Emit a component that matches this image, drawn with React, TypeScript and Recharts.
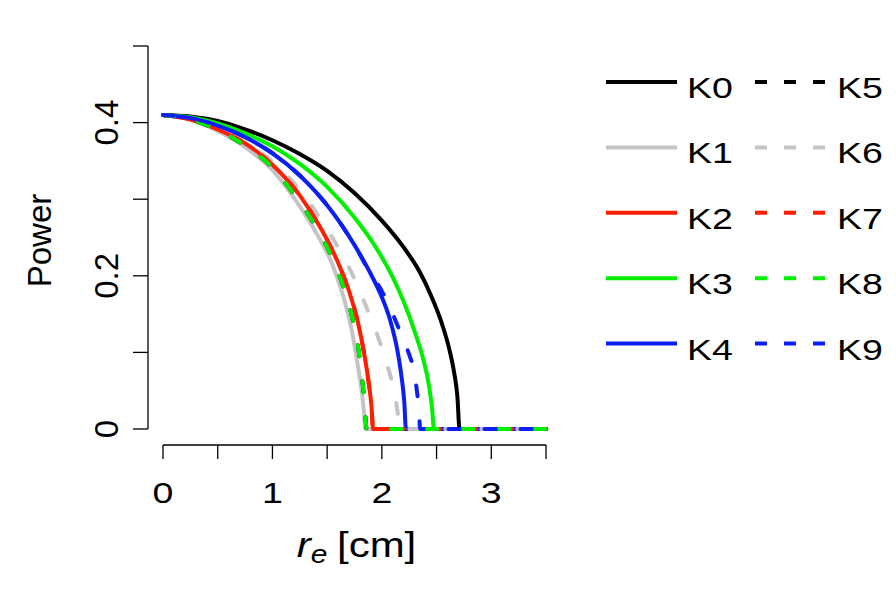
import React from 'react';
import { LineChart, Line, XAxis, YAxis, ReferenceLine, Legend, Label } from 'recharts';

type Pt = [number, number];

// power vs r_e [cm] for each kernel
const k0: Pt[] = [[0, 0.41], [0.25, 0.408], [0.5, 0.402], [0.75, 0.391], [1.0, 0.377], [1.25, 0.359], [1.5, 0.337], [1.75, 0.308], [2.0, 0.272], [2.2, 0.237], [2.35, 0.204], [2.45, 0.174], [2.55, 0.137], [2.62, 0.102], [2.66, 0.074], [2.69, 0.043], [2.71, 0], [3.5, 0]];
const k1: Pt[] = [[0, 0.41], [0.25, 0.404], [0.5, 0.389], [0.75, 0.368], [1.0, 0.338], [1.2, 0.301], [1.4, 0.256], [1.55, 0.214], [1.65, 0.172], [1.72, 0.132], [1.77, 0.092], [1.81, 0.055], [1.835, 0.025], [1.85, 0], [3.5, 0]];
const k2: Pt[] = [[0, 0.41], [0.25, 0.404], [0.5, 0.391], [0.75, 0.373], [1.0, 0.345], [1.25, 0.305], [1.45, 0.26], [1.6, 0.217], [1.7, 0.18], [1.78, 0.14], [1.84, 0.097], [1.88, 0.06], [1.905, 0.03], [1.92, 0], [3.5, 0]];
const k3: Pt[] = [[0, 0.41], [0.25, 0.407], [0.5, 0.399], [0.75, 0.386], [1.0, 0.369], [1.25, 0.346], [1.5, 0.316], [1.75, 0.276], [1.95, 0.236], [2.1, 0.198], [2.2, 0.166], [2.3, 0.127], [2.38, 0.09], [2.43, 0.057], [2.46, 0.025], [2.475, 0], [3.5, 0]];
const k4: Pt[] = [[0, 0.41], [0.25, 0.406], [0.5, 0.396], [0.75, 0.381], [1.0, 0.36], [1.25, 0.331], [1.5, 0.292], [1.75, 0.24], [1.9, 0.202], [2.0, 0.172], [2.08, 0.14], [2.14, 0.104], [2.18, 0.068], [2.205, 0.035], [2.22, 0], [3.5, 0]];
const k5: Pt[] = [[0, 0.41], [0.25, 0.404], [0.5, 0.39], [0.75, 0.37], [1.0, 0.341], [1.2, 0.306], [1.4, 0.263], [1.55, 0.222], [1.65, 0.185], [1.73, 0.145], [1.79, 0.1], [1.82, 0.065], [1.845, 0.03], [1.86, 0], [3.5, 0]];
const k6: Pt[] = [[0, 0.41], [0.25, 0.404], [0.5, 0.392], [0.75, 0.373], [1.0, 0.349], [1.25, 0.312], [1.45, 0.272], [1.6, 0.237], [1.75, 0.196], [1.87, 0.155], [1.97, 0.118], [2.05, 0.083], [2.1, 0.057], [2.13, 0.035], [2.15, 0.015], [2.16, 0], [3.5, 0]];
const k7: Pt[] = [[0, 0.41], [0.25, 0.404], [0.5, 0.391], [0.75, 0.373], [1.0, 0.345], [1.25, 0.305], [1.45, 0.26], [1.6, 0.217], [1.7, 0.18], [1.78, 0.14], [1.84, 0.097], [1.88, 0.06], [1.905, 0.03], [1.92, 0], [3.5, 0]];
const k8: Pt[] = [[0, 0.41], [0.25, 0.404], [0.5, 0.39], [0.75, 0.37], [1.0, 0.341], [1.2, 0.306], [1.4, 0.263], [1.55, 0.222], [1.65, 0.185], [1.73, 0.145], [1.79, 0.1], [1.82, 0.065], [1.845, 0.03], [1.86, 0], [3.5, 0]];
const k9: Pt[] = [[0, 0.41], [0.25, 0.406], [0.5, 0.396], [0.75, 0.381], [1.0, 0.36], [1.25, 0.331], [1.5, 0.292], [1.75, 0.24], [1.9, 0.202], [2.0, 0.18], [2.1, 0.15], [2.18, 0.122], [2.25, 0.097], [2.29, 0.078], [2.32, 0.05], [2.34, 0.022], [2.35, 0], [3.5, 0]];

const xTicks = [0, 0.5, 1, 1.5, 2, 2.5, 3, 3.5];
const yTicks = [0, 0.1, 0.2, 0.3, 0.4, 0.5];
const yLabels: Record<string, string> = { '0': '0', '0.2': '0.2', '0.4': '0.4' };

const BLACK = '#000000';
const GRAY = '#c4c4c4';
const RED = '#ff1e00';
const GREEN = '#00f000';
const BLUE = '#0a1ef5';

const series = [
  { name: 'K0', pts: k0, color: BLACK, dashed: false },
  { name: 'K1', pts: k1, color: GRAY, dashed: false },
  { name: 'K2', pts: k2, color: RED, dashed: false },
  { name: 'K3', pts: k3, color: GREEN, dashed: false },
  { name: 'K4', pts: k4, color: BLUE, dashed: false },
  { name: 'K5', pts: k5, color: BLACK, dashed: true },
  { name: 'K6', pts: k6, color: GRAY, dashed: true },
  { name: 'K7', pts: k7, color: RED, dashed: true },
  { name: 'K8', pts: k8, color: GREEN, dashed: true },
  { name: 'K9', pts: k9, color: BLUE, dashed: true },
];

const FONT = '"Liberation Sans", Arial, Helvetica, sans-serif';
const X_MAX = 3.5;
const Y_MIN = -0.0209; // leaves a gap between the curves and the x axis
const Y_AXIS_X = -0.137; // y axis line sits a bit left of x = 0

const toRows = (pts: Pt[]) => pts.map(([x, p]) => ({ x, p }));

const XTick = (props: any) => {
  const { x, y, payload } = props;
  if (!Number.isInteger(payload.value)) return null;
  return (
    <text
      transform={`translate(${x},${y + 44}) scale(1.25,1)`}
      textAnchor="middle"
      fontSize={30}
      fontFamily={FONT}
      fill="#000"
    >
      {payload.value}
    </text>
  );
};

const YTick = (props: any) => {
  const { x, y, payload } = props;
  const label = yLabels[String(payload.value)];
  return (
    <g>
      <line x1={x - 30} x2={x - 15} y1={y} y2={y} stroke="#000" strokeWidth={1.3} />
      {label && (
        <text
          transform={`translate(${x - 45},${y}) rotate(-90)`}
          textAnchor="middle"
          fontSize={33}
          fontFamily={FONT}
          fill="#000"
        >
          {label}
        </text>
      )}
    </g>
  );
};

const LegendBox = () => {
  const rowY = (i: number) => 34 + i * 65.4;
  const cols = [
    { x1: 28, x2: 99, tx: 109 },
    { x1: 177, x2: 249, tx: 259 },
  ];
  return (
    <svg width={310} height={340}>
      {series.map((s, idx) => {
        const col = cols[s.dashed ? 1 : 0];
        const y = rowY(idx % 5);
        return (
          <g key={s.name}>
            <line
              x1={col.x1}
              x2={col.x2}
              y1={y}
              y2={y}
              stroke={s.color}
              strokeWidth={4}
              strokeDasharray={s.dashed ? '12 17' : undefined}
            />
            <text
              transform={`translate(${col.tx},${y + 16}) scale(1.25,1)`}
              fontSize={30}
              fontFamily={FONT}
              fill="#000"
            >
              {s.name}
            </text>
          </g>
        );
      })}
    </svg>
  );
};

export default function App() {
  return (
    <div style={{ width: 880, height: 580 }}>
      <LineChart width={880} height={580} margin={{ top: 38, right: 342, bottom: 43, left: 0 }}>
        <XAxis
          type="number"
          dataKey="x"
          domain={[0, X_MAX]}
          ticks={xTicks}
          interval={0}
          height={100}
          tickSize={14}
          tickMargin={0}
          axisLine={{ stroke: '#000', strokeWidth: 1.3 }}
          tickLine={{ stroke: '#000', strokeWidth: 1.3 }}
          tick={<XTick />}
        >
          <Label
            content={(p: any) => {
              const vb = p.viewBox;
              return (
                <text
                  transform={`translate(${vb.x + vb.width / 2 + 2},${vb.y + 112}) scale(1.2,1)`}
                  textAnchor="middle"
                  fontSize={35}
                  fontFamily={FONT}
                  fill="#000"
                >
                  <tspan fontStyle="italic">r</tspan>
                  <tspan fontStyle="italic" fontSize={25} dy={6}>e</tspan>
                  <tspan dy={-6} dx={8}>[cm]</tspan>
                </text>
              );
            }}
          />
        </XAxis>
        <YAxis
          type="number"
          domain={[Y_MIN, 0.5]}
          ticks={yTicks}
          interval={0}
          width={155}
          tickSize={0}
          tickMargin={0}
          axisLine={false}
          tickLine={false}
          tick={<YTick />}
        >
          <Label
            content={(p: any) => {
              const vb = p.viewBox;
              return (
                <text
                  transform={`translate(${vb.x + 43},${vb.y + vb.height / 2 - 5}) rotate(-90)`}
                  textAnchor="middle"
                  fontSize={33}
                  fontFamily={FONT}
                  fill="#000"
                >
                  Power
                </text>
              );
            }}
          />
        </YAxis>
        <ReferenceLine
          segment={[{ x: Y_AXIS_X, y: 0 }, { x: Y_AXIS_X, y: 0.5 }]}
          stroke="#000"
          strokeWidth={1.3}
          ifOverflow="visible"
        />
        {series.map((s) => (
          <Line
            key={s.name}
            name={s.name}
            data={toRows(s.pts)}
            dataKey="p"
            type="monotone"
            stroke={s.color}
            strokeWidth={4}
            strokeLinecap="round"
            strokeDasharray={s.dashed ? '11 25' : undefined}
            dot={false}
            activeDot={false}
            isAnimationActive={false}
          />
        ))}
        <Legend
          layout="vertical"
          align="center"
          verticalAlign="middle"
          wrapperStyle={{ left: 570, top: 40, width: 310 }}
          content={() => <LegendBox />}
        />
      </LineChart>
    </div>
  );
}
